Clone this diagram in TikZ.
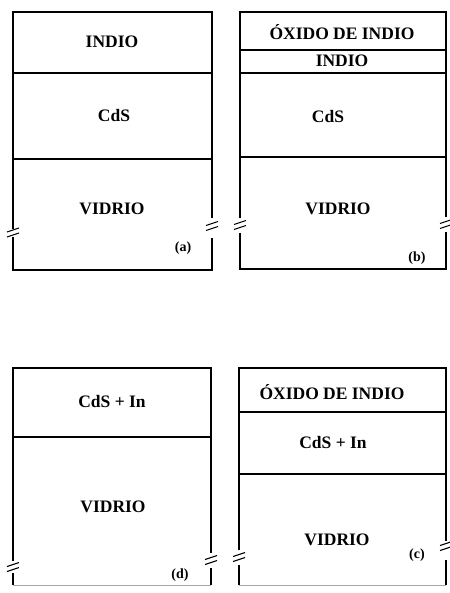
\documentclass[tikz,border=0pt]{standalone}
\usepackage{fontspec}
\setmainfont{Liberation Serif}
\newcommand\slashes[2]{%
  \draw[slash] ({#1-6},{#2-0.5}) -- ({#1+6},{#2-4.5});
  \draw[slash] ({#1-6},{#2+4.5}) -- ({#1+6},{#2+0.5});}
\begin{document}
\begin{tikzpicture}[x=1pt,y=-1pt,line width=1.2pt,
  lbl/.style={font=\bfseries\fontsize{17.5}{18}\selectfont,inner sep=0pt},
  tag/.style={font=\bfseries\fontsize{14}{14}\selectfont,inner sep=0pt},
  slash/.style={line width=1.1pt},
  faint/.style={line width=0.6pt,draw=black!35}]
\useasboundingbox (0,0) rectangle (449,593);
% ---- (a)
\draw (13,229) -- (13,12) -- (212,12) -- (212,218);
\draw (13,237) -- (13,270) -- (212,270) -- (212,238);
\draw (13,73) -- (212,73);
\draw (13,159) -- (212,159);
\slashes{13}{232.5}
\slashes{212}{226}
\node[lbl] (a1) at (112,42) {INDIO};
\node[lbl] (a2) at (114,116) {CdS};
\node[lbl] (a3) at (112,209) {VIDRIO};
\node[tag] (at) at (183,248) {(a)};
% ---- (b)
\draw (240,218) -- (240,12) -- (446,12) -- (446,217);
\draw (240,233) -- (240,269) -- (446,269) -- (446,232);
\draw (240,50) -- (446,50);
\draw (240,73) -- (446,73);
\draw (240,157) -- (446,157);
\slashes{240}{225}
\slashes{446}{224}
\node[lbl] (b1) at (342,32) {ÓXIDO DE INDIO};
\node[lbl] (b2) at (342,61) {INDIO};
\node[lbl] (b3) at (328,117) {CdS};
\node[lbl] (b4) at (338,209) {VIDRIO};
\node[tag] (bt) at (417,258) {(b)};
% ---- (d)
\draw (13,561) -- (13,368) -- (211,368) -- (211,553);
\draw (13,573) -- (13,585);
\draw (211,568) -- (211,585);
\draw[faint] (13,585) -- (211,585);
\draw (13,437) -- (211,437);
\slashes{13}{567}
\slashes{211}{560}
\node[lbl] (d1) at (112,402) {CdS + In};
\node[lbl] (d2) at (113,507) {VIDRIO};
\node[tag] (dt) at (180,575) {(d)};
% ---- (c)
\draw (239,550) -- (239,368) -- (446,368) -- (446,541);
\draw (239,565) -- (239,585);
\draw (446,560) -- (446,585);
\draw[faint] (239,585) -- (446,585);
\draw (239,412) -- (446,412);
\draw (239,474) -- (446,474);
\slashes{239}{557}
\slashes{446}{546}
\node[lbl] (c1) at (332,392) {ÓXIDO DE INDIO};
\node[lbl] (c2) at (333,443) {CdS + In};
\node[lbl] (c3) at (337,540) {VIDRIO};
\node[tag] (ct) at (417,555) {(c)};
\end{tikzpicture}
\end{document}
